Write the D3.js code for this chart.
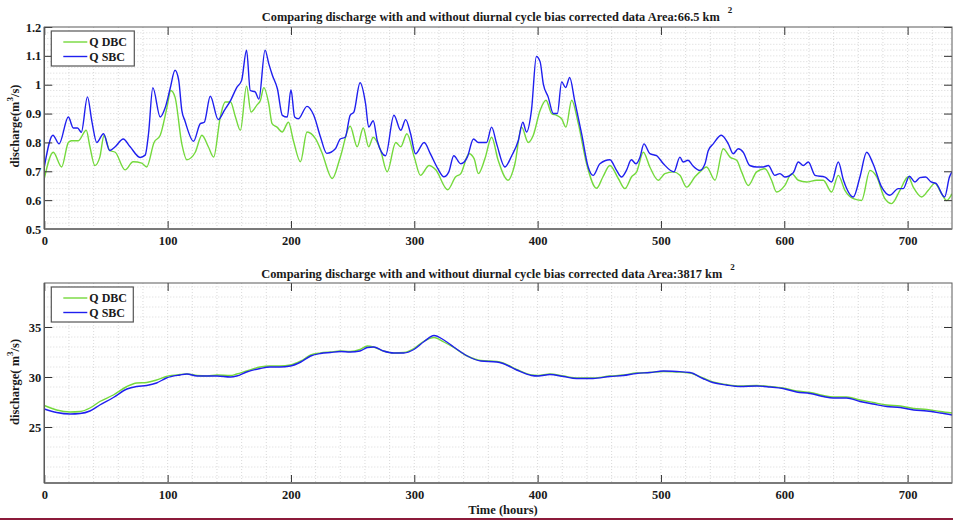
<!DOCTYPE html>
<html>
<head>
<meta charset="utf-8">
<script src="https://cdn.jsdelivr.net/npm/d3@7"></script>
<style>
  html, body { margin: 0; padding: 0; background: #fff; }
  svg { display: block; }
  text { font-family: "Liberation Serif", "Times New Roman", serif; font-weight: bold; fill: #1a1a1a; }
</style>
</head>
<body>
<svg id="chart" width="953" height="520"></svg>
<script>
// ---- Small catchment (66.5 km²) ----
const topSbcHours = [0,7,12,19.5,23.5,27,30,35,38.5,42.5,48,53,57.5,64,69.6,77.7,81.8,84.5,88,94,98,102,106,109,111.5,114,121,126.5,129.7,134.6,141,146,151,156,160,164,167,171,174,179,182,185,189,193,197,200,203,206,213,218.5,224,229,236,240,244,248,251,256,260.5,263,266.7,270,276.7,283.5,289,293,297,301,308,313,319,324,328,332,337.7,343,348,352,356,358.6,362.7,366.8,373.5,379,384.3,388,391,395,399,402,404.6,408.6,412.7,416,419.5,422.7,426,430,435.7,441,445,450.5,458.6,464,468,472,476,479.7,483,486.2,491,496.5,502,510.5,515.4,518,522,525.7,531.6,535.7,538.4,542.4,549,554.6,558.6,562.7,566.7,572,577.6,583,587,592.4,596.5,600.5,607.3,611.4,615.4,619.5,625,633,638.4,643.8,648,656,661.4,666.8,672,679,685.7,692.4,696.5,701.4,706,710,714.6,719,723,730,734,736];
const topSbc = [0.715,0.825,0.795,0.888,0.85,0.85,0.835,0.958,0.875,0.80,0.83,0.772,0.785,0.812,0.785,0.748,0.756,0.83,0.99,0.888,0.92,0.986,1.05,1.015,0.911,0.875,0.804,0.865,0.87,0.96,0.879,0.911,0.945,0.99,1.015,1.12,0.98,0.975,0.95,1.12,1.073,1.032,0.986,0.894,0.888,0.983,0.888,0.882,0.925,0.894,0.818,0.762,0.778,0.812,0.818,0.894,0.905,1.007,0.934,0.853,0.875,0.806,0.754,0.894,0.842,0.879,0.83,0.761,0.80,0.761,0.71,0.681,0.698,0.754,0.726,0.749,0.812,0.80,0.80,0.80,0.853,0.795,0.715,0.754,0.806,0.87,0.836,0.911,1.098,1.08,1.003,0.957,0.90,0.90,1.01,0.99,1.025,0.946,0.83,0.715,0.686,0.726,0.74,0.703,0.68,0.703,0.74,0.726,0.749,0.795,0.761,0.754,0.726,0.698,0.749,0.732,0.738,0.72,0.703,0.726,0.772,0.795,0.825,0.795,0.761,0.778,0.766,0.72,0.715,0.715,0.72,0.686,0.692,0.68,0.695,0.732,0.72,0.732,0.686,0.68,0.663,0.732,0.669,0.611,0.681,0.766,0.726,0.645,0.617,0.64,0.64,0.683,0.663,0.678,0.68,0.663,0.658,0.611,0.681,0.698];

const topDbcHours = [0,7.3,14,19.5,22,27.6,34,37,41,45,48.5,53,57.5,65.5,72,79,83,89,94,99.4,102.6,106,111.5,115.6,122.4,127.8,133,137.3,142.7,146.7,151,155,159,164,167.6,172.5,175.2,178,182,184.7,188.7,192.8,198,202,207.7,213,220,225,233.5,240,248,253.7,258.6,263,266.7,272.7,278,285,289,294,300,305,312,317.4,327,333.6,337.7,344.4,348.5,352,357.3,362.7,368,376,381.6,387,392.4,396.5,402,406.8,411.4,415.4,419.5,423,427.6,433,439.7,447.8,453,458.6,465.4,470.8,476.2,480.3,485.7,491,497.8,503.2,510,515.4,520.8,527.6,531.6,537,543.8,550.5,556,561.4,565.4,570.8,577.6,584.3,589.7,593.8,600.5,606,611.4,618.1,626.2,631.6,638.4,643.8,649.2,656,662.7,669.5,674.9,681.6,687,693.8,700.5,704.6,711.4,716.8,722,727.6,731.6,736];
const topDbc = [0.675,0.766,0.715,0.80,0.806,0.806,0.842,0.785,0.72,0.749,0.825,0.772,0.766,0.705,0.733,0.728,0.715,0.80,0.825,0.92,0.98,0.957,0.795,0.74,0.766,0.825,0.785,0.749,0.888,0.94,0.94,0.888,0.842,0.995,0.905,0.93,0.945,0.99,0.934,0.865,0.853,0.836,0.87,0.806,0.733,0.836,0.812,0.766,0.675,0.749,0.856,0.785,0.85,0.785,0.818,0.772,0.698,0.80,0.785,0.83,0.749,0.686,0.72,0.705,0.636,0.681,0.692,0.761,0.744,0.692,0.744,0.818,0.738,0.669,0.726,0.853,0.80,0.825,0.911,0.946,0.90,0.894,0.882,0.853,0.946,0.865,0.726,0.641,0.681,0.72,0.675,0.64,0.681,0.698,0.766,0.715,0.669,0.692,0.698,0.686,0.645,0.681,0.698,0.715,0.669,0.778,0.749,0.738,0.698,0.651,0.698,0.709,0.669,0.628,0.651,0.692,0.669,0.663,0.669,0.669,0.628,0.686,0.634,0.605,0.599,0.703,0.681,0.605,0.588,0.634,0.681,0.645,0.611,0.634,0.658,0.622,0.599,0.622];

const topYTicks = [0.5,0.6,0.7,0.8,0.9,1.0,1.1,1.2];

// ---- Large catchment (3817 km²) ----
const bottomHours = [0,10,21,29,37,45,56,67,75,83,91,99,110,115.6,124,132,140,151,156,164,175,183,191,199.5,208,216,224,232,240,248,256,262,267,275,283.5,291.6,299.7,308,316,324,332,343,354,367,372,383,395,400.5,410,421,431.6,445,458.6,469.5,480,491,502,512.7,523.5,534,542,553,564,577.6,588.4,599,610,621,631.6,639.7,650.5,661.4,672,683,694,705,715.6,726.5,736];
const bottomDbc = [27.15,26.7,26.5,26.55,26.9,27.55,28.2,29.05,29.4,29.45,29.7,30.05,30.25,30.3,30.15,30.1,30.2,30.15,30.3,30.6,31.0,31.1,31.1,31.2,31.6,32.2,32.4,32.5,32.6,32.55,32.75,33.1,33.0,32.6,32.4,32.45,32.85,33.6,33.95,33.5,32.95,32.1,31.65,31.55,31.4,30.75,30.2,30.15,30.3,30.1,29.9,29.9,30.1,30.2,30.4,30.45,30.55,30.5,30.4,29.9,29.5,29.25,29.1,29.15,29.05,28.9,28.6,28.45,28.15,28.0,28.0,27.7,27.45,27.2,27.1,26.85,26.75,26.55,26.4];
const bottomSbc = [26.8,26.45,26.3,26.35,26.6,27.2,27.95,28.8,29.05,29.15,29.4,29.9,30.2,30.3,30.1,30.1,30.1,30.0,30.1,30.5,30.85,31.0,31.0,31.1,31.5,32.1,32.35,32.45,32.55,32.5,32.6,32.95,33.0,32.6,32.4,32.4,32.75,33.55,34.15,33.7,33.0,32.1,31.6,31.5,31.35,30.7,30.15,30.1,30.25,30.05,29.85,29.85,30.05,30.15,30.35,30.45,30.6,30.55,30.45,29.85,29.45,29.2,29.05,29.1,29.0,28.85,28.5,28.35,28.05,27.9,27.9,27.55,27.3,27.05,26.95,26.7,26.6,26.4,26.2];

const bottomYTicks = [25,30,35];

const xTicks = [0,100,200,300,400,500,600,700];
const seriesNames = ["Q DBC", "Q SBC"];
const seriesColors = ["#74d93c", "#1f1fef"];

const svg = d3.select("#chart");

function drawPanel(opt) {
  const { left, right, top, bottom } = opt.box;
  const x = d3.scaleLinear().domain([0, 736]).range([left, right]);
  const y = d3.scaleLinear().domain(opt.yDomain).range([bottom, top]);
  const g = svg.append("g");

  const clipId = "clip-" + opt.id;
  svg.append("clipPath").attr("id", clipId)
    .append("rect").attr("x", left).attr("y", top)
    .attr("width", right - left).attr("height", bottom - top);

  // dotted grid: every 20 h across, minor steps down the value axis
  const grid = g.append("g").attr("stroke", "#cfcfcf").attr("stroke-width", 0.8)
    .attr("stroke-dasharray", "1,2");
  d3.range(20, 736, 20).forEach(v => {
    grid.append("line").attr("x1", x(v)).attr("x2", x(v)).attr("y1", top).attr("y2", bottom);
  });
  const yMinor = d3.range(opt.yMinor[0], opt.yMinor[1] + 1e-9, opt.yMinor[2]);
  yMinor.forEach(v => {
    if (y(v) > top + 0.5 && y(v) < bottom - 0.5)
      grid.append("line").attr("x1", left).attr("x2", right).attr("y1", y(v)).attr("y2", y(v));
  });

  // series
  const line = d3.line().curve(d3.curveMonotoneX).x(d => x(d[0])).y(d => y(d[1]));
  const plot = g.append("g").attr("clip-path", `url(#${clipId})`);
  opt.series.forEach(s => {
    plot.append("path").datum(d3.zip(s.hours, s.values))
      .attr("fill", "none").attr("stroke", seriesColors[s.color])
      .attr("stroke-width", 1.4).attr("d", line);
  });

  // axes with inward ticks on all four sides
  const axB = g.append("g").attr("transform", `translate(0,${bottom})`)
    .call(d3.axisBottom(x).tickValues(xTicks).tickSizeInner(-8).tickSizeOuter(0).tickPadding(7).tickFormat(d3.format("d")));
  const axT = g.append("g").attr("transform", `translate(0,${top})`)
    .call(d3.axisTop(x).tickValues(xTicks).tickSizeInner(-8).tickSizeOuter(0).tickFormat(""));
  const axL = g.append("g").attr("transform", `translate(${left},0)`)
    .call(d3.axisLeft(y).tickValues(opt.yTicks).tickSizeInner(-8).tickSizeOuter(0).tickPadding(3).tickFormat(opt.yFormat));
  const axR = g.append("g").attr("transform", `translate(${right},0)`)
    .call(d3.axisRight(y).tickValues(opt.yTicks).tickSizeInner(-8).tickSizeOuter(0).tickFormat(""));
  [axB, axT, axL, axR].forEach(a => {
    a.select(".domain").remove();
    a.selectAll(".tick line").attr("stroke", "#333").attr("stroke-width", 1);
    a.selectAll("text").attr("font-size", 12.5).attr("fill", "#1a1a1a")
      .attr("font-family", "Liberation Serif, serif").attr("font-weight", "bold");
  });

  // frame
  g.append("rect").attr("x", left).attr("y", top).attr("width", right - left).attr("height", bottom - top)
    .attr("fill", "none").attr("stroke", "#5a5a5a").attr("stroke-width", 1);
  g.append("line").attr("x1", left).attr("x2", right).attr("y1", bottom).attr("y2", bottom)
    .attr("stroke", "#7a7a7a").attr("stroke-width", 1.8);
  g.append("line").attr("x1", left).attr("x2", left).attr("y1", top).attr("y2", bottom)
    .attr("stroke", "#5a5a5a").attr("stroke-width", 1.4);

  // title
  const t = g.append("text").attr("x", opt.titleX).attr("y", opt.titleY).attr("text-anchor", "middle")
    .attr("font-size", 12.4);
  t.append("tspan").text(opt.title);
  t.append("tspan").attr("dx", 8).attr("dy", -8).attr("font-size", 9).text("2");

  // value-axis label
  const yl = g.append("text")
    .attr("transform", `translate(${opt.yLabelX},${opt.yLabelY}) rotate(-90)`)
    .attr("text-anchor", "middle").attr("font-size", 12.5);
  yl.append("tspan").text(opt.yLabelPre);
  yl.append("tspan").attr("dy", -6).attr("font-size", 9).text("3");
  yl.append("tspan").attr("dy", 6).text("/s)");

  // legend
  const lg = g.append("g").attr("transform", `translate(${left + 7},${top + 4})`);
  lg.append("rect").attr("width", opt.legendW).attr("height", 35)
    .attr("fill", "#fff").attr("stroke", "#555").attr("stroke-width", 1.2);
  seriesNames.forEach((n, i) => {
    const yy = 11 + i * 14.5;
    lg.append("line").attr("x1", 12).attr("x2", 36).attr("y1", yy).attr("y2", yy)
      .attr("stroke", seriesColors[i]).attr("stroke-width", 1.4);
    lg.append("text").attr("x", 38).attr("y", yy + 4).attr("font-size", 12).text(n);
  });
}

drawPanel({
  id: "top",
  box: { left: 44.3, right: 952, top: 27, bottom: 229 },
  yDomain: [0.5, 1.2],
  yTicks: topYTicks,
  yMinor: [0.5, 1.2, 0.02],
  yFormat: d => (Math.abs(d - 1) < 1e-9 ? "1" : d3.format(".1f")(d)),
  series: [
    { hours: topDbcHours, values: topDbc, color: 0 },
    { hours: topSbcHours, values: topSbc, color: 1 }
  ],
  title: "Comparing discharge with and without diurnal cycle bias corrected data Area:66.5 km",
  titleX: 497, titleY: 21,
  yLabelPre: "discharge(m",
  yLabelX: 19, yLabelY: 126,
  legendW: 83
});

drawPanel({
  id: "bottom",
  box: { left: 44.3, right: 952, top: 283, bottom: 483 },
  yDomain: [19.4, 39.4],
  yTicks: bottomYTicks,
  yMinor: [20, 39, 1],
  yFormat: d3.format("d"),
  series: [
    { hours: bottomHours, values: bottomDbc, color: 0 },
    { hours: bottomHours, values: bottomSbc, color: 1 }
  ],
  title: "Comparing discharge with and without diurnal cycle bias corrected data Area:3817 km",
  titleX: 498, titleY: 278,
  yLabelPre: "discharge( m",
  yLabelX: 19, yLabelY: 382,
  legendW: 82
});

// time axis label
svg.append("text").attr("x", 503).attr("y", 514).attr("text-anchor", "middle")
  .attr("font-size", 12.5).text("Time (hours)");

// closing rule along the foot of the figure
svg.append("line").attr("x1", 0).attr("x2", 953).attr("y1", 519).attr("y2", 519)
  .attr("stroke", "#8b1a3a").attr("stroke-width", 2);
</script>
</body>
</html>
